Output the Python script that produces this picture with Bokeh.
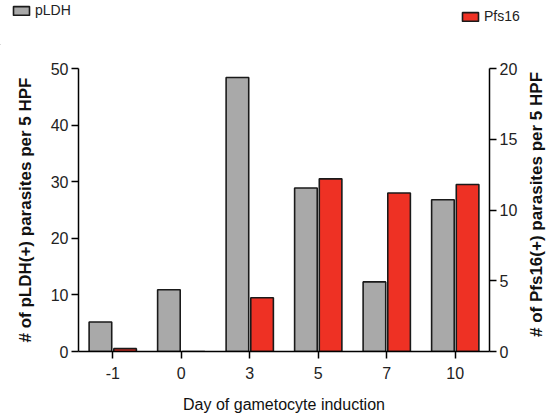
import math
from bokeh.plotting import figure
from bokeh.layouts import column, row
from bokeh.models import (ColumnDataSource, FactorRange, Range1d, LinearAxis, Legend,
                          LegendItem, FixedTicker, Label)
from bokeh.transform import dodge
from bokeh.embed import file_html
from bokeh.resources import INLINE

days = ["-1", "0", "3", "5", "7", "10"]
pldh = [5.2, 10.9, 48.4, 28.9, 12.3, 26.8]
pfs16 = [0.2, 0.0, 3.8, 12.2, 11.2, 11.8]
left_ticks = [0, 10, 20, 30, 40, 50]
right_ticks = [0, 5, 10, 15, 20]

GRAY = "#a9a9a9"
RED = "#ee3124"
EDGE = "#1a1a1a"
FONT = "Liberation Sans"

TOP_H = 45
MAIN_H = 415 - TOP_H
RIGHT_W = 35
MAIN_W = 555 - RIGHT_W
BORDER_TOP = 68 - TOP_H
BORDER_BOTTOM = 62

src = ColumnDataSource(dict(day=days, pldh=pldh, pfs16=pfs16))

# ---------------- main chart ----------------
p = figure(width=MAIN_W, height=MAIN_H, x_range=FactorRange(*days, range_padding=0.0),
           y_range=Range1d(0, 50), output_backend="svg", toolbar_location=None,
           min_border_left=78, min_border_right=30, min_border_top=BORDER_TOP,
           min_border_bottom=BORDER_BOTTOM)
p.extra_y_ranges = {"right": Range1d(0, 20)}

p.vbar(x=dodge("day", -0.18, range=p.x_range), top="pldh", width=0.33, source=src,
       fill_color=GRAY, line_color=EDGE, line_width=1.6)
p.vbar(x=dodge("day", 0.18, range=p.x_range), top="pfs16", width=0.33, source=src,
       y_range_name="right", fill_color=RED, line_color=EDGE, line_width=1.6)

p.xgrid.visible = False
p.ygrid.visible = False
p.outline_line_color = None

def style(ax):
    ax.axis_line_color = "black"
    ax.axis_line_width = 1.5
    ax.major_tick_line_color = "black"
    ax.major_tick_line_width = 1.5
    ax.major_tick_in = 0
    ax.major_tick_out = 7
    ax.minor_tick_line_color = None
    ax.major_label_text_font = FONT
    ax.major_label_text_font_size = "16px"
    ax.major_label_text_color = "#222222"
    ax.axis_label_text_font = FONT
    ax.axis_label_text_color = "#111111"

ly = p.yaxis[0]
ly.ticker = FixedTicker(ticks=left_ticks)
ly.axis_label = "# of pLDH(+) parasites per 5 HPF"
style(ly)
ly.axis_label_text_font_style = "bold"
ly.axis_label_text_font_size = "17px"
ly.axis_label_standoff = 13
ly.major_label_standoff = 3

ry = LinearAxis(y_range_name="right", ticker=FixedTicker(ticks=right_ticks))
style(ry)
ry.major_label_standoff = 3
p.add_layout(ry, "right")

xa = p.xaxis[0]
style(xa)
xa.axis_label = "Day of gametocyte induction"
xa.axis_label_text_font_style = "normal"
xa.axis_label_text_font_size = "16px"
xa.axis_label_standoff = 14
xa.major_label_standoff = 8

# ---------------- legend strip (top) ----------------
top = figure(width=555, height=TOP_H, x_range=Range1d(0, 1), y_range=Range1d(0, 1),
             output_backend="svg", toolbar_location=None, x_axis_type=None,
             y_axis_type=None, min_border=0)
top.xgrid.visible = False
top.ygrid.visible = False
top.outline_line_color = None
# swatch carriers kept outside the visible range; only their legend glyphs show
dummy = ColumnDataSource(dict(x=[-10], top=[-5], bottom=[-6]))
g1 = top.vbar(x="x", top="top", bottom="bottom", width=0.1, source=dummy,
              fill_color=GRAY, line_color=EDGE, line_width=1.6)
g2 = top.vbar(x="x", top="top", bottom="bottom", width=0.1, source=dummy,
              fill_color=RED, line_color=EDGE, line_width=1.6)

def mk_legend(r, label, loc):
    return Legend(items=[LegendItem(label=label, renderers=[r])], location=loc,
                  background_fill_alpha=0, border_line_color=None,
                  label_text_font=FONT, label_text_font_size="14px",
                  label_text_color="#222222",
                  glyph_width=20, glyph_height=11, padding=0, margin=0, spacing=0,
                  label_standoff=4)

top.add_layout(mk_legend(g1, "pLDH", (11, 27)), "center")
top.add_layout(mk_legend(g2, "Pfs16", (460, 21)), "center")

# ---------------- right-axis title strip ----------------
# its frame is aligned with the main frame (page y 68..353)
side = figure(width=RIGHT_W, height=MAIN_H, x_range=Range1d(0, 1), y_range=Range1d(0, 1),
              output_backend="svg", toolbar_location=None, x_axis_type=None,
              y_axis_type=None, min_border=0)
side.xgrid.visible = False
side.ygrid.visible = False
side.outline_line_color = None
side.add_layout(Label(x=16, y=353 - 206, x_units="screen", y_units="screen",
                      text="# of Pfs16(+) parasites per 5 HPF", angle=math.pi / 2,
                      text_align="center", text_baseline="middle",
                      text_font=FONT, text_font_size="17px", text_font_style="bold",
                      text_color="#111111"))

layout = column(top, row(p, side, spacing=0), spacing=0)

open("out.html", "w").write(file_html(layout, INLINE))
